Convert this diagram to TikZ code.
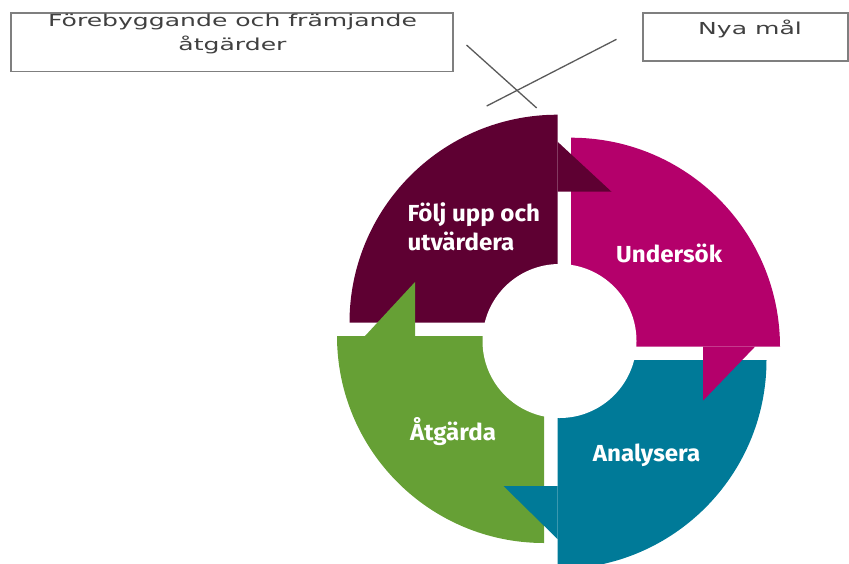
\documentclass[tikz,border=0pt]{standalone}
\usepackage{fontspec}
\usepackage{graphicx}
\newfontfamily\labfont[FakeStretch=1.04]{Fira Sans}
\newfontfamily\boxfont[FakeStretch=1.52]{DejaVu Sans}
\definecolor{cpurp}{HTML}{5E0032}
\definecolor{cmag}{HTML}{B4006B}
\definecolor{cteal}{HTML}{007A98}
\definecolor{cgreen}{HTML}{66A035}
\definecolor{cboxline}{HTML}{7F7F7F}
\definecolor{cboxtext}{HTML}{404040}
\definecolor{cxline}{HTML}{5A5A5A}
\tikzset{
  topbox/.style={draw=cboxline, line width=1.8pt, fill=white, inner sep=0pt},
  boxtext/.style={text=cboxtext, font=\boxfont\fontsize{16.5}{24}\selectfont, inner sep=0pt, align=center},
  steplabel/.style={text=white, font=\labfont\bfseries\fontsize{23.2}{29}\selectfont, inner sep=0pt, align=left},
  xline/.style={draw=cxline, line width=1.3pt}
}
\begin{document}
\begin{tikzpicture}[x=1pt,y=-1pt]
\useasboundingbox (0,0) rectangle (849,563);
\clip (0,0) rectangle (849,563);
% corners of the four quarters
\coordinate (P) at (557.5,322.7);
\coordinate (M) at (571,346.7);
\coordinate (T) at (557.5,360);
\coordinate (G) at (544,336);
% quarter sectors
\fill[cmag] (M) -- ++(0,-209) arc[start angle=270,end angle=360,radius=209] -- cycle;
\fill[cteal] (T) -- ++(209,0) arc[start angle=0,end angle=90,radius=209] -- cycle;
\fill[cgreen] (G) -- ++(0,207) arc[start angle=90,end angle=180,radius=207] -- cycle;
\fill[cpurp] (P) -- ++(-208,0) arc[start angle=180,end angle=270,radius=208] -- cycle;
% arrow heads
\fill[cpurp] (P) ++(0,-181) -- ++(54,50) -- ++(-54,0) -- cycle;
\fill[cmag] (M) ++(184,0) -- ++(-52,54) -- ++(0,-54) -- cycle;
\fill[cteal] (T) ++(0,179) -- ++(-54,-53) -- ++(54,0) -- cycle;
\fill[cgreen] (G) ++(-179,0) -- ++(50,-54) -- ++(0,54) -- cycle;
% inner white circle
\fill[white] (559.5,341) circle[radius=77];
% labels (base anchor = baseline of last line)
\node[steplabel, anchor=base west] (folj) at (407.3,250.7) {Följ upp och\\utvärdera};
\node[steplabel, anchor=base west] (unders) at (616,262.7) {Undersök};
\node[steplabel, anchor=base west] (atg) at (410,440) {Åtgärda};
\node[steplabel, anchor=base west] (analys) at (592.7,461.7) {Analysera};
% top boxes
\node[topbox, minimum width=442pt, minimum height=58.8pt] (box1) at (232.2,42.1) {};
\node[boxtext, anchor=base] (box1text) at (232.5,50) {Förebyggande och främjande\\åtgärder};
\node[topbox, minimum width=205.3pt, minimum height=48.3pt] (box2) at (745.3,36.9) {};
\node[boxtext, anchor=base] (box2text) at (750,34) {Nya mål};
% crossing lines
\coordinate (l1a) at (466.5,45);
\coordinate (l1b) at (536.7,108);
\coordinate (l2a) at (616.5,39.3);
\coordinate (l2b) at (486.7,106);
\draw[xline] (l1a) -- (l1b);
\draw[xline] (l2a) -- (l2b);
\end{tikzpicture}
\end{document}
